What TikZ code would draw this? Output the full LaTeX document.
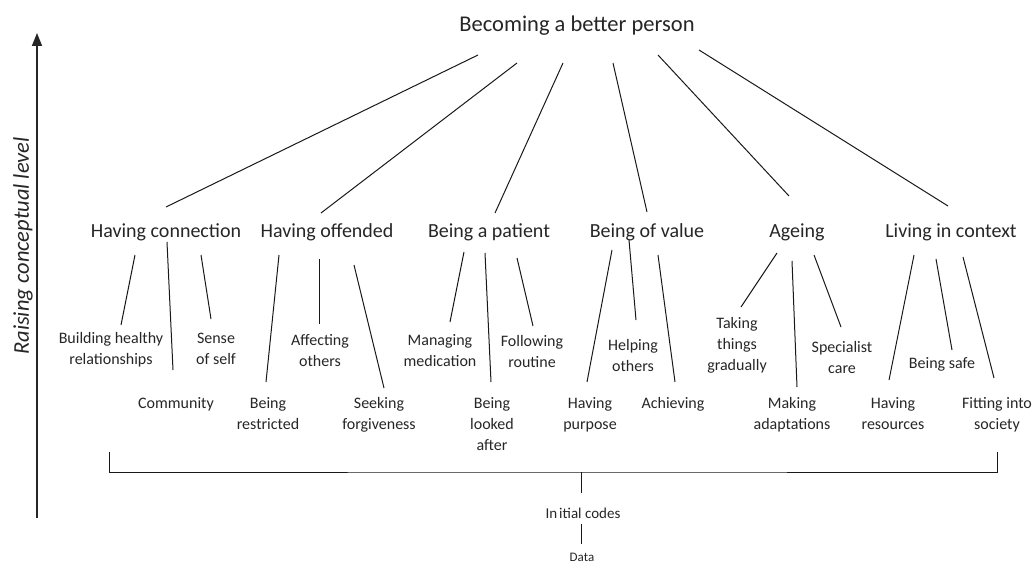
\documentclass[tikz,border=0pt]{standalone}
\usepackage{fontspec}
\setmainfont{Carlito}
\usetikzlibrary{arrows.meta}
\begin{document}
\begin{tikzpicture}[x=1pt,y=-1pt,
  every node/.style={inner sep=0pt, text=black!85},
  ttl/.style={font=\fontsize{22.5}{26}\selectfont, anchor=base},
  cat/.style={font=\fontsize{20}{24}\selectfont, anchor=base},
  leaf/.style={font=\fontsize{16}{21}\selectfont, anchor=north, align=center},
  conn/.style={draw=black!90, line width=1pt},
]
\useasboundingbox (0,0) rectangle (1036,567);

% axis
\coordinate (ab) at (37,518);
\coordinate (at) at (37,33);
\draw[draw=black!85, line width=1.6pt, -{Triangle[width=10pt,length=13pt]}] (ab) -- (at);
\node[rotate=90, font=\itshape\fontsize{22.5}{26}\selectfont] (ax) at (23,246) {Raising conceptual level};

% title and categories
\node[ttl] (top) at (577,32) {Becoming a better person};
\node[cat] (hc) at (166,237) {Having connection};
\node[cat] (ho) at (327,237) {Having offended};
\node[cat] (bp) at (489,237) {Being a patient};
\node[cat] (bv) at (647,237) {Being of value};
\node[cat] (ag) at (797,237) {Ageing};
\node[cat] (lc) at (951,237) {Living in context};

% leaves
\node[leaf] (bhr) at (111,332) {Building healthy\\relationships};
\node[leaf] (com) at (176,397) {Community};
\node[leaf] (sos) at (216,333) {Sense\\of self};
\node[leaf] (brs) at (268,397) {Being\\restricted};
\node[leaf] (aff) at (320,334) {Affecting\\others};
\node[leaf] (sfg) at (379,397) {Seeking\\forgiveness};
\node[leaf] (mm) at (440,334) {Managing\\medication};
\node[leaf] (bla) at (492,397) {Being\\looked\\after};
\node[leaf] (fr) at (532,335) {Following\\routine};
\node[leaf] (hp) at (590,397) {Having\\purpose};
\node[leaf] (hlp) at (633,339) {Helping\\others};
\node[leaf] (ach) at (673,397) {Achieving};
\node[leaf] (ttg) at (737,317) {Taking\\things\\gradually};
\node[leaf] (ma) at (792,397) {Making\\adaptations};
\node[leaf] (sc) at (842,341) {Specialist\\care};
\node[leaf] (hr) at (893,397) {Having\\resources};
\node[leaf] (bs) at (942,357) {Being safe};
\node[leaf] (fis) at (997,397) {Fitting into\\society};

% title -> categories
\draw[conn] ([xshift=-99pt,yshift=-23pt]top.base) -- ([yshift=30pt]hc.base);
\draw[conn] ([xshift=-60pt,yshift=-31pt]top.base) -- ([xshift=-6pt,yshift=24pt]ho.base);
\draw[conn] ([xshift=-14pt,yshift=-31pt]top.base) -- ([xshift=6pt,yshift=24pt]bp.base);
\draw[conn] ([xshift=36pt,yshift=-31pt]top.base) -- ([yshift=25pt]bv.base);
\draw[conn] ([xshift=81pt,yshift=-23pt]top.base) -- ([xshift=-8pt,yshift=41pt]ag.base);
\draw[conn] ([xshift=122pt,yshift=-18pt]top.base) -- ([xshift=-3pt,yshift=31pt]lc.base);

% categories -> leaves
\draw[conn] ([xshift=-31pt,yshift=-18pt]hc.base) -- ([xshift=10pt,yshift=7pt]bhr.north);
\draw[conn] ([xshift=1pt,yshift=-5pt]hc.base) -- ([xshift=-3pt,yshift=27pt]com.north);
\draw[conn] ([xshift=35pt,yshift=-18pt]hc.base) -- ([xshift=-5pt,yshift=14pt]sos.north);

\draw[conn] ([xshift=-48pt,yshift=-18pt]ho.base) -- ([xshift=-2pt,yshift=15pt]brs.north);
\draw[conn] ([xshift=-8pt,yshift=-22pt]ho.base) -- ([xshift=-1pt,yshift=10pt]aff.north);
\draw[conn] ([xshift=27pt,yshift=-28pt]ho.base) -- ([xshift=5pt,yshift=9pt]sfg.north);

\draw[conn] ([xshift=-25pt,yshift=-15pt]bp.base) -- ([xshift=10pt,yshift=12pt]mm.north);
\draw[conn] ([xshift=-4pt,yshift=-16pt]bp.base) -- ([xshift=-1pt,yshift=15pt]bla.north);
\draw[conn] ([xshift=28pt,yshift=-21pt]bp.base) -- ([xshift=1pt,yshift=9pt]fr.north);

\draw[conn] ([xshift=-35pt,yshift=-13pt]bv.base) -- ([xshift=-3pt,yshift=15pt]hp.north);
\draw[conn] ([xshift=-18pt,yshift=-3pt]bv.base) -- ([xshift=3pt,yshift=19pt]hlp.north);
\draw[conn] ([xshift=11pt,yshift=-18pt]bv.base) -- ([xshift=2pt,yshift=15pt]ach.north);

\draw[conn] ([xshift=-20pt,yshift=-16pt]ag.base) -- ([xshift=4pt,yshift=10pt]ttg.north);
\draw[conn] ([xshift=-5pt,yshift=-24pt]ag.base) -- ([xshift=5pt,yshift=10pt]ma.north);
\draw[conn] ([xshift=17pt,yshift=-18pt]ag.base) -- ([xshift=-1pt,yshift=14pt]sc.north);

\draw[conn] ([xshift=-37pt,yshift=-18pt]lc.base) -- ([xshift=-4pt,yshift=17pt]hr.north);
\draw[conn] ([xshift=-15pt,yshift=-22pt]lc.base) -- ([xshift=10pt,yshift=7pt]bs.north);
\draw[conn] ([xshift=12pt,yshift=-20pt]lc.base) -- ([xshift=-3pt,yshift=19pt]fis.north);

% bracket and bottom
\coordinate (bl) at (109,452);
\coordinate (br) at (997,452);
\coordinate (mid) at (581,472);
\draw[conn] (bl) |- (mid) -| (br);
\node[font=\fontsize{15}{18}\selectfont, anchor=base] (ic) at (583,518) {In\kern2pt itial codes};
\node[font=\fontsize{13}{16}\selectfont, anchor=base] (dt) at (582,561) {Data};
\draw[conn, shorten >=14pt] (mid) -- (mid |- ic.north);
\draw[conn, shorten <=6pt, shorten >=8pt] (mid |- ic.south) -- (mid |- dt.north);
\end{tikzpicture}
\end{document}
